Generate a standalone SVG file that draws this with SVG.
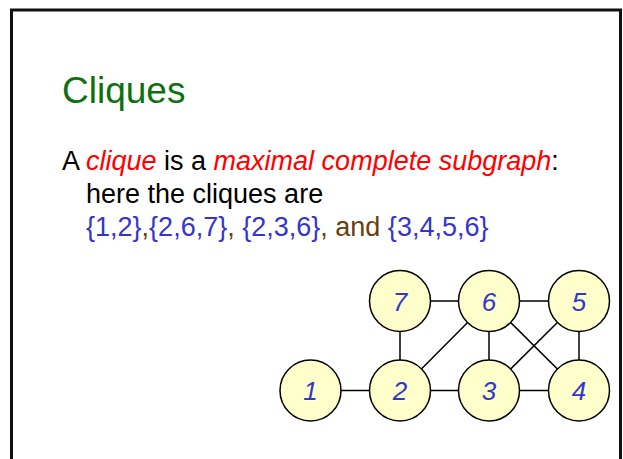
<svg xmlns="http://www.w3.org/2000/svg" width="623" height="459" viewBox="0 0 623 459">
<style>
.t{font-family:"Liberation Sans",Arial,sans-serif;font-size:27px}
.k{fill:#000}
.r{fill:#FF0000;font-style:italic}
.b{fill:#3535CC}
.br{fill:#6B3E0F}
.n circle{fill:#FFFFCC;stroke:#000;stroke-width:1.5}
.n text{font-family:"Liberation Sans",Arial,sans-serif;font-size:26px;font-style:italic;fill:#3535CC;text-anchor:middle}
#edges line{stroke:#000;stroke-width:1.5}
</style>
<rect x="11.5" y="10" width="609" height="470" fill="#fff" stroke="#111" stroke-width="3"/>
<text x="62" y="103" style="font-family:'Liberation Sans',Arial,sans-serif;font-size:37px;fill:#0E700E">Cliques</text>
<text class="t" x="62" y="170"><tspan class="k">A </tspan><tspan class="r">clique</tspan><tspan class="k"> is a </tspan><tspan class="r">maximal complete subgraph</tspan><tspan class="k">:</tspan></text>
<text class="t k" x="86" y="203">here the cliques are</text>
<text class="t" x="86" y="236"><tspan class="b">{1,2}</tspan><tspan class="br">,</tspan><tspan class="b">{2,6,7}</tspan><tspan class="br">, </tspan><tspan class="b">{2,3,6}</tspan><tspan class="br">, and </tspan><tspan class="b">{3,4,5,6}</tspan></text>
<g id="edges">
<line x1="310.5" y1="390.5" x2="400" y2="390.5"/>
<line x1="400" y1="390.5" x2="489" y2="390.5"/>
<line x1="489" y1="390.5" x2="579" y2="390.5"/>
<line x1="400" y1="301" x2="489" y2="301"/>
<line x1="489" y1="301" x2="579" y2="301"/>
<line x1="400" y1="301" x2="400" y2="390.5"/>
<line x1="489" y1="301" x2="489" y2="390.5"/>
<line x1="579" y1="301" x2="579" y2="390.5"/>
<line x1="400" y1="390.5" x2="489" y2="301"/>
<line x1="489" y1="390.5" x2="579" y2="301"/>
<line x1="489" y1="301" x2="579" y2="390.5"/>
</g>
<g id="node1" class="n"><circle cx="310.5" cy="390.5" r="30.5"/><text x="310.5" y="400">1</text></g>
<g id="node2" class="n"><circle cx="400" cy="390.5" r="30.5"/><text x="400" y="400">2</text></g>
<g id="node3" class="n"><circle cx="489" cy="390.5" r="30.5"/><text x="489" y="400">3</text></g>
<g id="node4" class="n"><circle cx="579" cy="390.5" r="30.5"/><text x="579" y="400">4</text></g>
<g id="node5" class="n"><circle cx="579" cy="301" r="30.5"/><text x="579" y="310.5">5</text></g>
<g id="node6" class="n"><circle cx="489" cy="301" r="30.5"/><text x="489" y="310.5">6</text></g>
<g id="node7" class="n"><circle cx="400" cy="301" r="30.5"/><text x="400" y="310.5">7</text></g>
</svg>
